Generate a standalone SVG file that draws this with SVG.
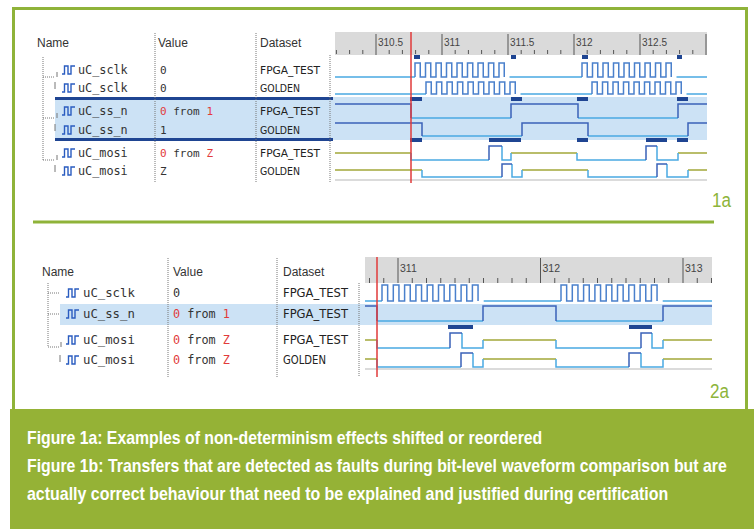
<svg xmlns="http://www.w3.org/2000/svg" width="754" height="529" viewBox="0 0 754 529">
<style>
.hdr{font-family:"Liberation Sans",Arial,sans-serif;font-size:12px;fill:#333}
.nm{font-family:"DejaVu Sans Mono","Liberation Mono",monospace;font-size:11.8px;fill:#333}
.nm2{font-family:"DejaVu Sans Mono","Liberation Mono",monospace;font-size:12.3px;fill:#333}
.vl{font-family:"DejaVu Sans Mono","Liberation Mono",monospace;font-size:11px;fill:#333}
.vl2{font-family:"DejaVu Sans Mono","Liberation Mono",monospace;font-size:11.8px;fill:#333}
.red{fill:#e23b3b}
.ds{font-family:"DejaVu Sans",sans-serif;font-size:11px;fill:#222}
.ds2{font-family:"DejaVu Sans",sans-serif;font-size:11.8px;fill:#222}
.tl{font-family:"Liberation Sans",Arial,sans-serif;font-size:10px;fill:#444}
.tl2{font-family:"Liberation Sans",Arial,sans-serif;font-size:10.5px;fill:#444}
.dot{stroke:#777;stroke-width:1;stroke-dasharray:1,1;fill:none}
.tk{stroke:#555;stroke-width:1;fill:none}
.lo{stroke:#4aa9e2;stroke-width:1.5;fill:none}
.hi{stroke:#3a62b8;stroke-width:1.5;fill:none}
.ck{stroke:#4a80cc;stroke-width:1.5;fill:none}
.z{stroke:#a3a83a;stroke-width:1.5;fill:none}
.mk{fill:#1f4592}
.ico{stroke:#2a5cc0;stroke-width:1.4;fill:none}
.lbl{font-family:"Liberation Sans",Arial,sans-serif;font-size:20px;fill:#8db43a}
.cap{font-family:"Liberation Sans",Arial,sans-serif;font-size:19px;font-weight:bold;fill:#ffffff}
</style>
<defs>
<path id="icon" class="ico" d="M0,4 h2.5 v-8 h3.5 v8 h3 v-8 h4"/>
</defs>
<rect x="0" y="0" width="754" height="529" fill="#ffffff"/>
<g id="frame">
<rect x="13.5" y="8.5" width="733" height="405" fill="#ffffff" stroke="#8fb339" stroke-width="3"/>
<rect x="10" y="409" width="744" height="120" fill="#95b236"/>
<line x1="33" y1="222" x2="714" y2="222" stroke="#8fb339" stroke-width="3"/>
</g>

<!-- ============ Panel 1a ============ -->
<g id="panel-1a">
<rect x="55" y="97" width="652" height="43" fill="#cce2f5"/>
<rect x="55" y="97" width="278" height="3" class="mk"/>
<rect x="55" y="138" width="278" height="3" class="mk"/>
<rect x="335" y="32" width="372" height="23" fill="#dadada"/>
<g class="tk">
<path d="M336.4,50v4M349.6,50v4M362.8,50v4M389.2,50v4M402.4,50v4M415.6,50v4M428.8,50v4M455.2,50v4M468.4,50v4M481.6,50v4M494.8,50v4M521.2,50v4M534.4,50v4M547.6,50v4M560.8,50v4M587.2,50v4M600.4,50v4M613.6,50v4M626.8,50v4M653.2,50v4M666.4,50v4M679.6,50v4M692.8,50v4"/>
<path d="M376,34v21M442,34v21M508,34v21M574,34v21M640,34v21M706,34v21"/>
</g>
<text class="tl" x="378" y="46">310.5</text>
<text class="tl" x="444" y="46">311</text>
<text class="tl" x="510" y="46">311.5</text>
<text class="tl" x="576" y="46">312</text>
<text class="tl" x="642" y="46">312.5</text>
<text class="hdr" x="37" y="47">Name</text>
<text class="hdr" x="158" y="47">Value</text>
<text class="hdr" x="260" y="47">Dataset</text>
<path class="dot" d="M155,33V183M256,33V183M330,55V183"/>
<path class="dot" d="M43,57V160M43,77H55M43,118H55M43,160H55"/>
<path stroke="#777" stroke-width="1" fill="none" d="M57,72v5M57,113v5M57,155v5M55,82v7M55,124v7M55,165v7"/>
</g>

<g id="row-1a-sclk-fpga">
<use href="#icon" x="62" y="70"/>
<text class="nm" x="78" y="74">uC_sclk</text>
<text class="vl" x="160" y="74">0</text>
<text class="ds" x="260" y="74" textLength="60" lengthAdjust="spacingAndGlyphs">FPGA_TEST</text>
<path class="lo" d="M335,77H415M509.5,77H582M676.5,77H707"/>
<path class="ck" d="M415,77v-14h5.25v14h5.25v-14h5.25v14h5.25v-14h5.25v14h5.25v-14h5.25v14h5.25v-14h5.25v14h5.25v-14h5.25v14h5.25v-14h5.25v14h5.25v-14h5.25v14h5.25v-14h5.25v14"/>
<path class="ck" d="M582,77v-14h5.25v14h5.25v-14h5.25v14h5.25v-14h5.25v14h5.25v-14h5.25v14h5.25v-14h5.25v14h5.25v-14h5.25v14h5.25v-14h5.25v14h5.25v-14h5.25v14h5.25v-14h5.25v14"/>
</g>
<g id="row-1a-sclk-golden">
<use href="#icon" x="62" y="88"/>
<text class="nm" x="78" y="92">uC_sclk</text>
<text class="vl" x="160" y="92">0</text>
<text class="ds" x="260" y="92" textLength="40" lengthAdjust="spacingAndGlyphs">GOLDEN</text>
<path class="lo" d="M335,94H426M520.5,94H592M686.5,94H707"/>
<path class="ck" d="M426,94v-12h5.25v12h5.25v-12h5.25v12h5.25v-12h5.25v12h5.25v-12h5.25v12h5.25v-12h5.25v12h5.25v-12h5.25v12h5.25v-12h5.25v12h5.25v-12h5.25v12h5.25v-12h5.25v12"/>
<path class="ck" d="M592,94v-12h5.25v12h5.25v-12h5.25v12h5.25v-12h5.25v12h5.25v-12h5.25v12h5.25v-12h5.25v12h5.25v-12h5.25v12h5.25v-12h5.25v12h5.25v-12h5.25v12h5.25v-12h5.25v12"/>
</g>
<g id="row-1a-ssn-fpga">
<use href="#icon" x="62" y="111"/>
<text class="nm" x="78" y="115">uC_ss_n</text>
<text class="vl" x="160" y="115"><tspan class="red">0</tspan> from <tspan class="red">1</tspan></text>
<text class="ds" x="260" y="115" textLength="60" lengthAdjust="spacingAndGlyphs">FPGA_TEST</text>
<path class="lo" d="M411,118H511M578,118H678"/>
<path class="hi" d="M335,104H411V118M511,118V104H578V118M678,118V104H707"/>
</g>
<g id="row-1a-ssn-golden">
<use href="#icon" x="62" y="130"/>
<text class="nm" x="78" y="134">uC_ss_n</text>
<text class="vl" x="160" y="134">1</text>
<text class="ds" x="260" y="134" textLength="40" lengthAdjust="spacingAndGlyphs">GOLDEN</text>
<path class="lo" d="M422,136H522M588,136H688"/>
<path class="hi" d="M335,123H422V136M522,136V123H588V136M688,136V123H707"/>
</g>
<g id="row-1a-mosi-fpga">
<use href="#icon" x="62" y="153"/>
<text class="nm" x="78" y="157">uC_mosi</text>
<text class="vl" x="160" y="157"><tspan class="red">0</tspan> from <tspan class="red">Z</tspan></text>
<text class="ds" x="260" y="157" textLength="60" lengthAdjust="spacingAndGlyphs">FPGA_TEST</text>
<path class="z" d="M335,153H411M511,153H577M678,153H707"/>
<path class="lo" d="M411,153V160H489M502,146V160H511V153M577,153V160H646M657,146V160H678V153"/>
<path class="hi" d="M489,160V146H502M646,160V146H657"/>
</g>
<g id="row-1a-mosi-golden">
<use href="#icon" x="62" y="171"/>
<text class="nm" x="78" y="175">uC_mosi</text>
<text class="vl" x="160" y="175">Z</text>
<text class="ds" x="260" y="175" textLength="40" lengthAdjust="spacingAndGlyphs">GOLDEN</text>
<path class="z" d="M335,170H422M522,170H588M688,170H707"/>
<path class="lo" d="M422,170V177H502M512,164V177H522V170M588,170V177H657M667,164V177H688V170"/>
<path class="hi" d="M502,177V164H512M657,177V164H667"/>
</g>
<g id="markers-1a">
<rect class="mk" x="414" y="55" width="6" height="4"/>
<rect class="mk" x="511" y="55" width="5" height="4"/>
<rect class="mk" x="582" y="55" width="6" height="4"/>
<rect class="mk" x="677" y="55" width="5" height="4"/>
<rect class="mk" x="410" y="97" width="12" height="4"/>
<rect class="mk" x="511" y="97" width="11" height="4"/>
<rect class="mk" x="577" y="97" width="11" height="4"/>
<rect class="mk" x="677" y="97" width="11" height="4"/>
<rect class="mk" x="410" y="138" width="12" height="4"/>
<rect class="mk" x="489" y="138" width="32" height="4"/>
<rect class="mk" x="577" y="138" width="11" height="4"/>
<rect class="mk" x="646" y="138" width="21" height="4"/>
<rect class="mk" x="677" y="138" width="11" height="4"/>
<line x1="335" y1="180" x2="707" y2="180" stroke="#cfcfcf" stroke-width="1.5"/>
<line x1="411" y1="32" x2="411" y2="183" stroke="#e03a3a" stroke-width="1.5"/>
</g>
<text id="label-1a" class="lbl" x="712" y="207" textLength="19" lengthAdjust="spacingAndGlyphs">1a</text>

<!-- ============ Panel 2a ============ -->
<g id="panel-2a">
<rect x="60" y="304" width="652" height="21" fill="#cce2f5"/>
<rect x="365" y="257" width="347" height="26" fill="#dadada"/>
<g class="tk">
<path d="M369.5,278v5M383.75,278v5M412.25,278v5M426.5,278v5M440.75,278v5M455,278v5M469.25,278v5M483.5,278v5M497.75,278v5M512,278v5M526.25,278v5M554.75,278v5M569,278v5M583.25,278v5M597.5,278v5M611.75,278v5M626,278v5M640.25,278v5M654.5,278v5M668.75,278v5M697.25,278v5M711.5,278v5"/>
<path d="M398,258v25M540.5,258v25M683,258v25"/>
</g>
<text class="tl2" x="400" y="272">311</text>
<text class="tl2" x="542.5" y="272">312</text>
<text class="tl2" x="685" y="272">313</text>
<text class="hdr" x="42" y="276">Name</text>
<text class="hdr" x="173" y="276">Value</text>
<text class="hdr" x="283" y="276">Dataset</text>
<path class="dot" d="M168,258V377M277,258V377M359,283V377"/>
<path class="dot" d="M48,283V347M48,293H60M48,314H60M48,347H60"/>
<path stroke="#777" stroke-width="1" fill="none" d="M61,342v5M60,355v7"/>
</g>
<g id="row-2a-sclk">
<use href="#icon" x="66" y="293"/>
<text class="nm2" x="83" y="297">uC_sclk</text>
<text class="vl2" x="173" y="297">0</text>
<text class="ds2" x="283" y="297" textLength="65" lengthAdjust="spacingAndGlyphs">FPGA_TEST</text>
<path class="lo" d="M365,301H382M483.7,301H561M662.7,301H712"/>
<path class="ck" d="M382,301v-16h5.65v16h5.65v-16h5.65v16h5.65v-16h5.65v16h5.65v-16h5.65v16h5.65v-16h5.65v16h5.65v-16h5.65v16h5.65v-16h5.65v16h5.65v-16h5.65v16h5.65v-16h5.65v16"/>
<path class="ck" d="M561,301v-16h5.65v16h5.65v-16h5.65v16h5.65v-16h5.65v16h5.65v-16h5.65v16h5.65v-16h5.65v16h5.65v-16h5.65v16h5.65v-16h5.65v16h5.65v-16h5.65v16h5.65v-16h5.65v16"/>
</g>
<g id="row-2a-ssn">
<use href="#icon" x="66" y="314"/>
<text class="nm2" x="83" y="318">uC_ss_n</text>
<text class="vl2" x="173" y="318"><tspan class="red">0</tspan> from <tspan class="red">1</tspan></text>
<text class="ds2" x="283" y="318" textLength="65" lengthAdjust="spacingAndGlyphs">FPGA_TEST</text>
<path class="lo" d="M377,321H483M556,321H663"/>
<path class="hi" d="M365,306H377V321M483,321V306H556V321M663,321V306H712"/>
</g>
<g id="row-2a-mosi-fpga">
<use href="#icon" x="66" y="340"/>
<text class="nm2" x="83" y="344">uC_mosi</text>
<text class="vl2" x="173" y="344"><tspan class="red">0</tspan> from <tspan class="red">Z</tspan></text>
<text class="ds2" x="283" y="344" textLength="65" lengthAdjust="spacingAndGlyphs">FPGA_TEST</text>
<path class="z" d="M365,340H377M483,340H556M663,340H712"/>
<path class="lo" d="M377,340V348H450M462,333V348H483V340M556,340V348H641M652,333V348H663V340"/>
<path class="hi" d="M450,348V333H462M641,348V333H652"/>
</g>
<g id="row-2a-mosi-golden">
<use href="#icon" x="66" y="360"/>
<text class="nm2" x="83" y="364">uC_mosi</text>
<text class="vl2" x="173" y="364"><tspan class="red">0</tspan> from <tspan class="red">Z</tspan></text>
<text class="ds2" x="283" y="364" textLength="43" lengthAdjust="spacingAndGlyphs">GOLDEN</text>
<path class="z" d="M365,359H377M483,359H556M663,359H712"/>
<path class="lo" d="M377,359V367H461M473,353V367H483V359M556,359V367H629M641,353V367H663V359"/>
<path class="hi" d="M461,367V353H473M629,367V353H641"/>
</g>
<g id="markers-2a">
<rect class="mk" x="448" y="325" width="25" height="4"/>
<rect class="mk" x="629" y="325" width="23" height="4"/>
<line x1="365" y1="369" x2="712" y2="369" stroke="#cfcfcf" stroke-width="1.5"/>
<line x1="377" y1="257" x2="377" y2="377" stroke="#e03a3a" stroke-width="1.5"/>
</g>
<text id="label-2a" class="lbl" x="710" y="398" textLength="19" lengthAdjust="spacingAndGlyphs">2a</text>

<g id="caption" transform="scale(0.75,1)">
<text class="cap" x="36" y="444" textLength="687" lengthAdjust="spacingAndGlyphs">Figure 1a: Examples of non-determinism effects shifted or reordered</text>
<text class="cap" x="36" y="472" textLength="933" lengthAdjust="spacingAndGlyphs">Figure 1b: Transfers that are detected as faults during bit-level waveform comparison but are</text>
<text class="cap" x="36" y="500" textLength="855" lengthAdjust="spacingAndGlyphs">actually correct behaviour that need to be explained and justified during certification</text>
</g>
</svg>
